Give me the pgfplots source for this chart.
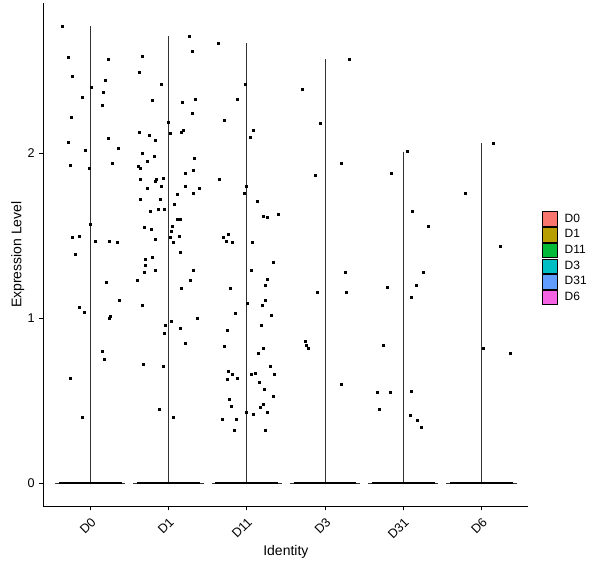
\documentclass[border=0pt]{standalone}
\usepackage{fontspec}
\setmainfont{Liberation Sans}
\usepackage{pgfplots}
\pgfplotsset{compat=1.18}

\definecolor{cDzero}{HTML}{F8766D}
\definecolor{cDone}{HTML}{B79F00}
\definecolor{cDeleven}{HTML}{00BA38}
\definecolor{cDthree}{HTML}{00BFC4}
\definecolor{cDthirtyone}{HTML}{619CFF}
\definecolor{cDsix}{HTML}{F564E3}
\definecolor{violin}{RGB}{51,51,51}

\begin{document}
\begin{tikzpicture}
\begin{axis}[
  scale only axis,
  width=363.9pt, height=377.5pt,
  xmin=0.4, xmax=6.6,
  ymin=-0.139, ymax=2.911,
  axis x line*=bottom, axis y line*=left,
  axis line style={line width=0.75pt, black},
  xtick={1,2,3,4,5,6},
  xticklabels={D0,D1,D11,D3,D31,D6},
  ytick={0,1,2},
  tick align=outside,
  major tick length=3pt,
  tick style={line width=0.75pt, black},
  /pgf/number format/assume math mode=true,
  xticklabel style={rotate=45, anchor=north east, font=\fontsize{9.5}{10}\selectfont},
  yticklabel style={font=\fontsize{9.5}{10}\selectfont},
  xlabel={Identity},
  ylabel={Expression Level},
  label style={font=\fontsize{10.5}{12}\selectfont},
  xlabel shift=-4pt,
  ylabel shift=-4.5pt,
  clip=false,
  legend image code/.code={\draw[#1, line width=0.4pt] (0pt,-5.4pt) rectangle (10.8pt,5.4pt);},
  legend cell align=left,
  legend style={
    at={(1.02,0.493)}, anchor=west,
    draw=none, fill=none,
    font=\fontsize{9}{9}\selectfont,
    row sep=0.6pt,
    nodes={inner sep=0pt},
    /tikz/every odd column/.append style={column sep=5.5pt},
  },
]
% violins: all very thin, drawn as lines
\addplot[line width=0.5pt, violin, forget plot] coordinates {(1,0) (1,2.77)};
\addplot[line width=0.5pt, violin, forget plot] coordinates {(0.55,0) (1.45,0)};
\addplot[line width=0.5pt, violin, forget plot] coordinates {(2,0) (2,2.71)};
\addplot[line width=0.5pt, violin, forget plot] coordinates {(1.55,0) (2.45,0)};
\addplot[line width=0.5pt, violin, forget plot] coordinates {(3,0) (3,2.67)};
\addplot[line width=0.5pt, violin, forget plot] coordinates {(2.55,0) (3.45,0)};
\addplot[line width=0.5pt, violin, forget plot] coordinates {(4,0) (4,2.57)};
\addplot[line width=0.5pt, violin, forget plot] coordinates {(3.55,0) (4.45,0)};
\addplot[line width=0.5pt, violin, forget plot] coordinates {(5,0) (5,2.01)};
\addplot[line width=0.5pt, violin, forget plot] coordinates {(4.55,0) (5.45,0)};
\addplot[line width=0.5pt, violin, forget plot] coordinates {(6,0) (6,2.06)};
\addplot[line width=0.5pt, violin, forget plot] coordinates {(5.55,0) (6.45,0)};

% jittered cells at zero
\addplot[line width=1.6pt, black, forget plot] coordinates {(0.6,0) (1.4,0)};
\addplot[line width=1.6pt, black, forget plot] coordinates {(1.6,0) (2.4,0)};
\addplot[line width=1.6pt, black, forget plot] coordinates {(2.6,0) (3.4,0)};
\addplot[line width=1.6pt, black, forget plot] coordinates {(3.6,0) (4.4,0)};
\addplot[line width=1.6pt, black, forget plot] coordinates {(4.6,0) (5.4,0)};
\addplot[line width=1.6pt, black, forget plot] coordinates {(5.6,0) (6.4,0)};

% D0
\addplot[only marks, mark=square*, mark size=0.75pt, black, forget plot] coordinates {
(0.639,2.77) (0.715,2.58) (1.226,2.57) (0.766,2.47) (1.188,2.44) (1.013,2.40)
(1.162,2.37) (0.894,2.34) (1.149,2.29) (0.754,2.22) (0.715,2.07) (1.226,2.09)
(0.932,2.02) (1.354,2.03) (0.741,1.93) (1.277,1.94) (0.983,1.91) (0.996,1.57)
(0.766,1.49) (0.856,1.50) (1.060,1.47) (1.239,1.47) (1.341,1.46) (0.805,1.39)
(1.200,1.22) (1.367,1.11) (0.856,1.07) (0.920,1.04) (1.239,1.00) (1.252,1.01)
(1.149,0.80) (1.175,0.75) (0.741,0.64) (0.894,0.40)
};
% D1
\addplot[only marks, mark=square*, mark size=0.75pt, black, forget plot] coordinates {
(1.660,2.59) (2.261,2.71) (2.299,2.62) (1.622,2.49) (1.903,2.42) (1.788,2.32)
(2.337,2.33) (2.171,2.31) (2.299,2.24) (1.992,2.19) (1.622,2.13) (2.018,2.12)
(2.184,2.14) (2.158,2.13) (1.750,2.11) (1.826,2.08) (1.660,2.00) (1.814,1.98)
(1.724,1.95) (2.324,1.97) (1.609,1.92) (1.635,1.91) (2.209,1.88) (2.312,1.90)
(1.635,1.84) (1.826,1.83) (1.843,1.84) (1.928,1.85) (1.724,1.79) (1.903,1.80)
(2.209,1.80) (2.312,1.76) (2.388,1.79) (2.107,1.75) (1.635,1.72) (1.890,1.72)
(2.069,1.69) (1.865,1.66) (1.941,1.66) (1.762,1.65) (2.107,1.60) (2.146,1.60)
(1.686,1.55) (1.775,1.54) (2.043,1.56) (2.031,1.53) (1.826,1.48) (2.018,1.49)
(2.056,1.46) (2.133,1.50) (1.699,1.36) (1.788,1.37) (2.146,1.40) (1.699,1.32)
(1.686,1.28) (1.826,1.29) (2.312,1.29) (2.273,1.23) (1.596,1.23) (2.158,1.18)
(1.660,1.08) (2.363,1.00) (2.031,0.98) (1.954,0.96) (2.146,0.94) (1.941,0.91)
(2.209,0.85) (1.673,0.72) (1.928,0.71) (1.877,0.45) (2.056,0.40)
};
% D11
\addplot[only marks, mark=square*, mark size=0.75pt, black, forget plot] coordinates {
(2.635,2.67) (2.980,2.42) (2.874,2.33) (2.711,2.20) (3.078,2.14) (3.040,2.10)
(2.644,1.84) (2.989,1.80) (2.963,1.76) (3.129,1.71) (3.206,1.62) (3.257,1.61)
(3.397,1.63) (2.759,1.51) (2.695,1.49) (2.733,1.47) (2.810,1.46) (3.065,1.46)
(3.333,1.34) (3.052,1.29) (3.257,1.24) (3.231,1.20) (2.784,1.18) (3.231,1.11)
(3.001,1.09) (3.193,1.08) (2.848,1.03) (3.308,1.02) (3.180,0.96) (2.746,0.93)
(2.708,0.83) (3.206,0.82) (3.142,0.79) (3.295,0.71) (2.759,0.68) (2.810,0.66)
(3.052,0.66) (3.103,0.67) (3.346,0.66) (2.746,0.63) (2.874,0.64) (3.155,0.61)
(3.218,0.57) (3.333,0.53) (2.771,0.51) (2.797,0.47) (3.167,0.46) (3.206,0.48)
(2.989,0.43) (3.078,0.42) (3.257,0.43) (2.682,0.39) (2.861,0.39) (2.835,0.32)
(3.231,0.32)
};
% D3
\addplot[only marks, mark=square*, mark size=0.75pt, black, forget plot] coordinates {
(3.708,2.39) (4.308,2.57) (3.937,2.18) (4.206,1.94) (3.874,1.87) (4.257,1.28)
(3.899,1.16) (4.269,1.16) (3.746,0.86) (3.762,0.84) (3.788,0.82) (4.206,0.60)
};
% D31
\addplot[only marks, mark=square*, mark size=0.75pt, black, forget plot] coordinates {
(5.056,2.01) (4.852,1.88) (5.120,1.65) (5.324,1.56) (5.261,1.28) (4.801,1.19)
(5.171,1.20) (5.107,1.13) (4.750,0.84) (4.673,0.55) (4.839,0.55) (5.107,0.56)
(4.699,0.45) (5.095,0.41) (5.184,0.38) (5.235,0.34)
};
% D6
\addplot[only marks, mark=square*, mark size=0.75pt, black, forget plot] coordinates {
(6.146,2.06) (5.788,1.76) (6.235,1.44) (6.018,0.82) (6.363,0.79)
};

\addlegendimage{fill=cDzero, draw=black}
\addlegendentry{D0}
\addlegendimage{fill=cDone, draw=black}
\addlegendentry{D1}
\addlegendimage{fill=cDeleven, draw=black}
\addlegendentry{D11}
\addlegendimage{fill=cDthree, draw=black}
\addlegendentry{D3}
\addlegendimage{fill=cDthirtyone, draw=black}
\addlegendentry{D31}
\addlegendimage{fill=cDsix, draw=black}
\addlegendentry{D6}

\coordinate (bbl) at (rel axis cs:-0.0892,-0.1226);
\coordinate (btr) at (rel axis cs:1.1474,1.006);
\end{axis}
\pgfresetboundingbox
\path (bbl) rectangle (btr);
\end{tikzpicture}
\end{document}
